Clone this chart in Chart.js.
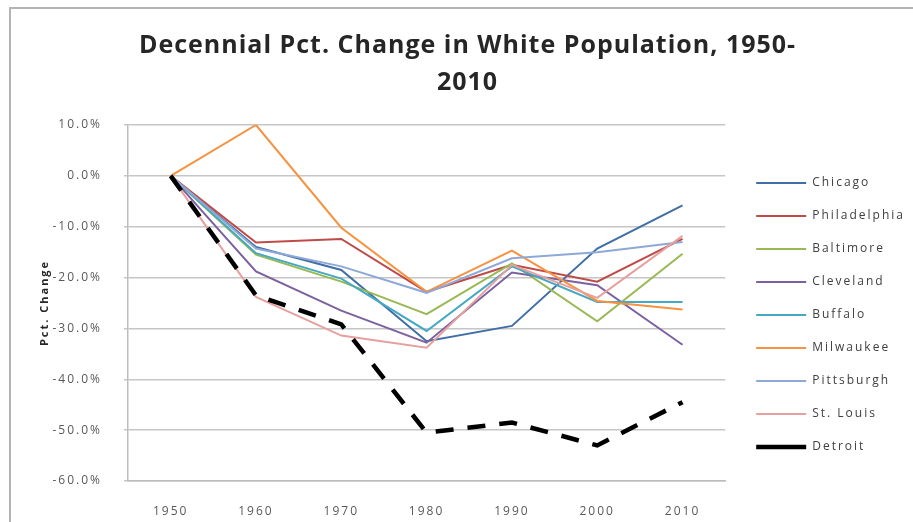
<!DOCTYPE html>
<html>
<head>
<meta charset="utf-8">
<script src="https://cdn.jsdelivr.net/npm/chart.js@4"></script>
<style>
  html, body { margin: 0; padding: 0; background: #fff; }
  #wrap { position: relative; width: 913px; height: 522px; }
  #frame { position: absolute; left: 9px; top: 7px; right: -2px; bottom: -2px;
           border-top: 2px solid #b4b4b4; border-left: 2px solid #b4b4b4; pointer-events: none; }
</style>
</head>
<body>
<div id="wrap">
  <canvas id="chart" width="913" height="522"></canvas>
  <div id="frame"></div>
</div>
<script>
// ---------- data ---------- //
const years = ["1950", "1960", "1970", "1980", "1990", "2000", "2010"];
const cities = ["Chicago", "Philadelphia", "Baltimore", "Cleveland", "Buffalo", "Milwaukee", "Pittsburgh", "St. Louis", "Detroit"];

const chicago      = [0, -14.0, -18.5, -32.5, -29.5, -14.3, -5.8];
const philadelphia = [0, -13.1, -12.4, -22.8, -17.5, -20.8, -12.4];
const baltimore    = [0, -15.5, -20.8, -27.2, -17.2, -28.6, -15.3];
const cleveland    = [0, -18.8, -26.5, -32.8, -19.0, -21.5, -33.2];
const buffalo      = [0, -15.2, -20.2, -30.5, -17.8, -24.8, -24.8];
const milwaukee    = [0, 10.0, -10.2, -22.8, -14.7, -24.6, -26.3];
const pittsburgh   = [0, -14.3, -17.8, -23.0, -16.2, -15.0, -13.0];
const stLouis      = [0, -23.8, -31.4, -33.8, -17.5, -24.0, -11.8];
const detroit      = [0, -23.5, -29.2, -50.5, -48.5, -53.0, -44.5];

const seriesValues = [chicago, philadelphia, baltimore, cleveland, buffalo, milwaukee, pittsburgh, stLouis, detroit];
const seriesColors = ["#3f6fa6", "#be4b48", "#98b954", "#7d60a0", "#46a9c3", "#f69240", "#8ea9d8", "#e6a19f", "#000000"];

const yTicksMin = -60;
const yTicksMax = 10;
const yTickStep = 10;

const FONT = "'Open Sans', sans-serif";

// Excel draws later series on top, so give earlier series a higher order
const datasets = cities.map((name, i) => {
  const isDetroit = name === "Detroit";
  return {
    label: name,
    data: seriesValues[i],
    borderColor: seriesColors[i],
    backgroundColor: seriesColors[i],
    borderWidth: isDetroit ? 4.5 : 2,
    borderDash: isDetroit ? [18, 14] : [],
    pointRadius: 0,
    pointHoverRadius: 0,
    tension: 0,
    fill: false,
    order: cities.length - i
  };
});

// the source picture is stretched sideways, so space the letters out a bit
// (small text 2px, the big title only 1px)
const wideText = {
  id: "wideText",
  beforeUpdate(chart) { chart.ctx.letterSpacing = "2px"; },
  beforeDraw(chart) {
    chart.ctx.letterSpacing = "2px";
    const tb = chart.titleBlock;
    if (tb && !tb._spaced) {
      const orig = tb.draw;
      tb.draw = function (...args) {
        const c = this.ctx;
        const prev = c.letterSpacing;
        c.letterSpacing = "1px";
        orig.apply(this, args);
        c.letterSpacing = prev;
      };
      tb._spaced = true;
    }
  }
};

// nudge the legend block to where Excel puts it
const legendNudge = {
  id: "legendNudge",
  afterLayout(chart) {
    const lg = chart.legend;
    if (!lg) return;
    lg.left += 10; lg.right += 10;
    lg.top += 12; lg.bottom += 12;
  }
};

new Chart(document.getElementById("chart").getContext("2d"), {
  type: "line",
  data: { labels: years, datasets: datasets },
  plugins: [wideText, legendNudge],
  options: {
    responsive: false,
    animation: false,
    layout: { padding: { left: 30, right: 8, top: 0, bottom: 7 } },
    scales: {
      x: {
        offset: true,
        grid: { display: false },
        border: { display: true, color: "#bdbdbd", width: 1.5 },
        ticks: { color: "#595959", font: { family: FONT, size: 12 }, padding: 15 },
        afterFit(scale) { scale.height = 34; }
      },
      y: {
        min: yTicksMin,
        max: yTicksMax,
        grid: { color: "#c6c6c6", lineWidth: 1.5, drawTicks: true, tickLength: 4 },
        border: { display: true, color: "#bdbdbd", width: 1.5 },
        ticks: {
          stepSize: yTickStep,
          color: "#595959",
          font: { family: FONT, size: 12 },
          padding: 22,
          callback: v => v.toFixed(1) + "%"
        },
        title: {
          display: true,
          text: "Pct. Change",
          color: "#262626",
          font: { family: FONT, size: 11, weight: "bold" },
          padding: { top: 8, bottom: 0 }
        },
        afterFit(scale) { scale.width = 98; }
      }
    },
    plugins: {
      title: {
        display: true,
        text: ["Decennial Pct. Change in White Population, 1950-", "2010"],
        color: "#262626",
        font: { family: FONT, size: 25, weight: "bold", lineHeight: 1.48 },
        padding: { top: 27, bottom: 24 }
      },
      legend: {
        position: "right",
        fullSize: false,
        labels: {
          color: "#404040",
          font: { family: FONT, size: 12 },
          boxWidth: 50,
          boxHeight: 0,
          padding: 21,
          sort: (a, b) => a.datasetIndex - b.datasetIndex
        }
      },
      tooltip: { enabled: false }
    }
  }
});
</script>
</body>
</html>
